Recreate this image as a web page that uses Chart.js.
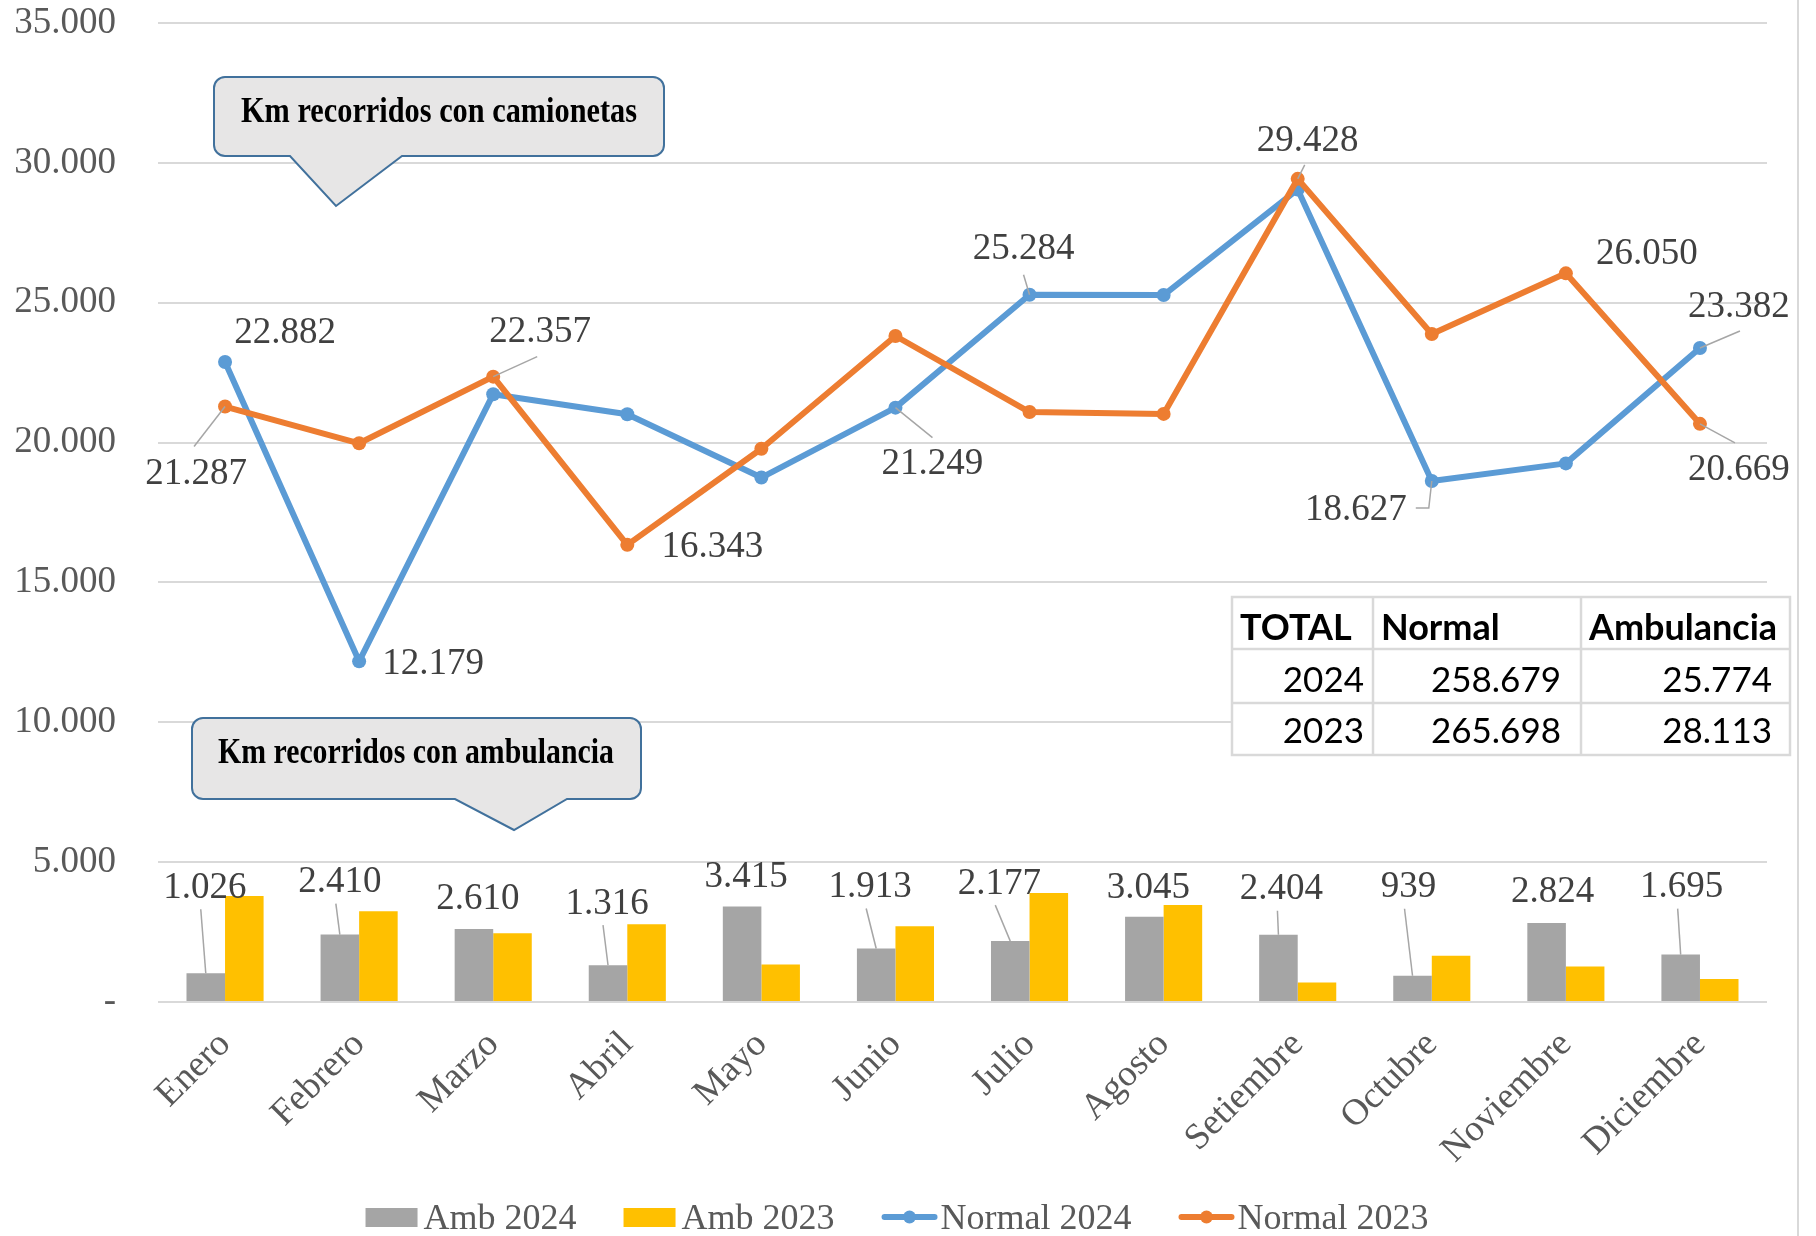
<!DOCTYPE html>
<html>
<head>
<meta charset="utf-8">
<script src="https://cdn.jsdelivr.net/npm/chart.js@4.4.1/dist/chart.umd.min.js"></script>
<style>
html,body{margin:0;padding:0;background:#ffffff;}
#wrap{width:1816px;height:1236px;position:relative;overflow:hidden;}
canvas{display:block;}
</style>
</head>
<body>
<div id="wrap"><canvas id="c" width="1816" height="1236"></canvas></div>
<script>
// ---------- DATA ----------
const months = ['Enero','Febrero','Marzo','Abril','Mayo','Junio','Julio','Agosto','Setiembre','Octubre','Noviembre','Diciembre'];
const amb2024 = [1026,2410,2610,1316,3415,1913,2177,3045,2404,939,2824,1695];
const amb2023 = [3790,3245,2455,2780,1345,2705,3895,3465,695,1650,1265,823];
const normal2024 = [22882,12179,21730,21015,18750,21249,25284,25275,29050,18627,19256,23382];
const normal2023 = [21287,19975,22357,16343,19780,23810,21091,21025,29428,23883,26050,20669];
const seriesNames = ['Amb 2024','Amb 2023','Normal 2024','Normal 2023'];
const yMax = 35000;
const yStep = 5000;
const totalsHeader = ['TOTAL','Normal','Ambulancia'];
const totals2024 = ['2024','258.679','25.774'];
const totals2023 = ['2023','265.698','28.113'];
const calloutTexts = ['Km recorridos con camionetas','Km recorridos con ambulancia'];

// ---------- STYLE ----------
const SERIF = "'Liberation Serif','Times New Roman',serif";
const COLORS = {gray:'#A5A5A5', yellow:'#FFC000', blue:'#5B9BD5', orange:'#ED7D31', grid:'#D9D9D9', tick:'#595959', label:'#404040', leader:'#A6A6A6'};
const AREA = {left:158, top:23, right:1767, bottom:1002};
const FS = 37;

function fmt(v){
  if (v === 0) return '-';
  return String(Math.round(v)).replace(/\B(?=(\d{3})+(?!\d))/g,'.');
}

// label placement (offsets from the element, in px)
const lineLabelSpec = {
  2: [
    {i:0, dx:60, dy:-29},
    {i:1, dx:74, dy:3},
    {i:5, dx:37, dy:57, lead:[[0,0],[37,30]]},
    {i:6, dx:-6, dy:-45, lead:[[0,0],[-6,-20]]},
    {i:9, dx:-76, dy:29, lead:[[0,0],[-3,27],[-16,27]]},
    {i:11, dx:39, dy:-41, lead:[[0,0],[40,-17]]}
  ],
  3: [
    {i:0, dx:-29, dy:68, lead:[[0,0],[-31,40]]},
    {i:2, dx:47, dy:-44, lead:[[0,0],[44,-20]]},
    {i:3, dx:85, dy:2},
    {i:8, dx:10, dy:-38, lead:[[0,0],[7,-14]]},
    {i:10, dx:81, dy:-19},
    {i:11, dx:39, dy:46, lead:[[0,0],[35,19]]}
  ]
};
const barLabelSpec = [
  {dx:-1, dy:-85, lead:true},
  {dx:0, dy:-52, lead:true},
  {dx:4, dy:-30, lead:false},
  {dx:-1, dy:-61, lead:true},
  {dx:4, dy:-29, lead:false},
  {dx:-6, dy:-61, lead:true},
  {dx:-11, dy:-57, lead:true},
  {dx:4, dy:-29, lead:false},
  {dx:3, dy:-45, lead:true},
  {dx:-4, dy:-88, lead:true},
  {dx:6, dy:-31, lead:false},
  {dx:1, dy:-67, lead:true}
];

const dataLabelsPlugin = {
  id:'dataLabels',
  afterDatasetsDraw(chart){
    const ctx = chart.ctx;
    ctx.save();
    ctx.font = FS + 'px ' + SERIF;
    ctx.textAlign = 'center';
    ctx.textBaseline = 'middle';
    Object.keys(lineLabelSpec).forEach(k => {
      const di = +k;
      const meta = chart.getDatasetMeta(di);
      const data = chart.data.datasets[di].data;
      lineLabelSpec[k].forEach(s => {
        const el = meta.data[s.i];
        if (s.lead){
          ctx.strokeStyle = COLORS.leader; ctx.lineWidth = 1.5;
          ctx.beginPath();
          s.lead.forEach((p,j)=>{ const px = el.x+p[0], py = el.y+p[1]; if(j===0) ctx.moveTo(px,py); else ctx.lineTo(px,py); });
          ctx.stroke();
        }
        ctx.fillStyle = COLORS.label;
        ctx.fillText(fmt(data[s.i]), el.x + s.dx, el.y + s.dy);
      });
    });
    const bmeta = chart.getDatasetMeta(0);
    const bdata = chart.data.datasets[0].data;
    bmeta.data.forEach((el, i) => {
      const s = barLabelSpec[i];
      const lx = el.x + s.dx, ly = el.y + s.dy;
      if (s.lead){
        ctx.strokeStyle = COLORS.leader; ctx.lineWidth = 1.5;
        ctx.beginPath(); ctx.moveTo(lx - 4, ly + 21); ctx.lineTo(el.x, el.y); ctx.stroke();
      }
      ctx.fillStyle = COLORS.label;
      ctx.fillText(fmt(bdata[i]), lx, ly);
    });
    ctx.restore();
  }
};

function calloutPath(ctx, l, t, r, b, rad, pl, px, py, pr){
  ctx.beginPath();
  ctx.moveTo(l+rad, t);
  ctx.lineTo(r-rad, t); ctx.arcTo(r, t, r, t+rad, rad);
  ctx.lineTo(r, b-rad); ctx.arcTo(r, b, r-rad, b, rad);
  ctx.lineTo(pr, b); ctx.lineTo(px, py); ctx.lineTo(pl, b);
  ctx.lineTo(l+rad, b); ctx.arcTo(l, b, l, b-rad, rad);
  ctx.lineTo(l, t+rad); ctx.arcTo(l, t, l+rad, t, rad);
  ctx.closePath();
}

const overlayPlugin = {
  id:'overlay',
  afterDraw(chart){
    const ctx = chart.ctx;
    ctx.save();
    ctx.strokeStyle = COLORS.grid; ctx.lineWidth = 2;
    ctx.beginPath(); ctx.moveTo(1798, 0); ctx.lineTo(1798, 1236); ctx.stroke();

    const callouts = [
      {box:[214,77,664,156], ptr:[290,336,206,402], tx:439, ty:122},
      {box:[192,718,641,799], ptr:[455,514,830,567], tx:416, ty:763}
    ];
    callouts.forEach((c, k) => {
      calloutPath(ctx, c.box[0], c.box[1], c.box[2], c.box[3], 11, c.ptr[0], c.ptr[1], c.ptr[2], c.ptr[3]);
      ctx.fillStyle = '#E7E6E6'; ctx.fill();
      ctx.strokeStyle = '#41719C'; ctx.lineWidth = 2; ctx.stroke();
      ctx.fillStyle = '#000000';
      ctx.font = 'bold 35px ' + SERIF;
      ctx.textAlign = 'center'; ctx.textBaseline = 'alphabetic';
      ctx.fillText(calloutTexts[k], c.tx, c.ty, 396);
    });

    const cols = [1232,1373,1581,1790];
    const rows = [597,649,703,755];
    const baselines = [640,692,743];
    const rightPad = [9,20,18];
    ctx.fillStyle = '#ffffff';
    ctx.fillRect(cols[0], rows[0], cols[3]-cols[0], rows[3]-rows[0]);
    const tableRows = [totalsHeader, totals2024, totals2023];
    tableRows.forEach((row, r) => {
      row.forEach((txt, c) => {
        ctx.fillStyle = '#000000';
        if (r === 0){
          ctx.font = 'bold 36px Lato, sans-serif';
          ctx.textAlign = 'left';
          ctx.fillText(txt, cols[c] + 8, baselines[r], cols[c+1]-cols[c]-10);
        } else {
          ctx.font = '35px Lato, sans-serif';
          ctx.textAlign = 'right';
          ctx.fillText(txt, cols[c+1] - rightPad[c], baselines[r]);
        }
      });
    });
    ctx.strokeStyle = COLORS.grid; ctx.lineWidth = 2.5;
    ctx.strokeRect(cols[0], rows[0], cols[3]-cols[0], rows[3]-rows[0]);
    ctx.beginPath();
    [cols[1], cols[2]].forEach(x => { ctx.moveTo(x, rows[0]); ctx.lineTo(x, rows[3]); });
    [rows[1], rows[2]].forEach(y => { ctx.moveTo(cols[0], y); ctx.lineTo(cols[3], y); });
    ctx.stroke();

    ctx.font = '36px ' + SERIF;
    ctx.textAlign = 'left'; ctx.textBaseline = 'alphabetic';
    const ds = chart.data.datasets;
    const items = ds.map(d => {
      const isBar = d.type === 'bar';
      const sym = isBar ? 52 : 56;
      const gap = isBar ? 6 : 3;
      return {d, isBar, sym, gap, w: sym + gap + ctx.measureText(d.label).width};
    });
    const itemGap = 47;
    const total = items.reduce((a, it) => a + it.w, 0) + itemGap * (items.length - 1);
    let x = 897 - total / 2;
    const cy = 1217;
    items.forEach(it => {
      if (it.isBar){
        ctx.fillStyle = it.d.backgroundColor;
        ctx.fillRect(x, cy - 9, it.sym, 19);
      } else {
        ctx.strokeStyle = it.d.borderColor; ctx.lineWidth = 6; ctx.lineCap = 'round';
        ctx.beginPath(); ctx.moveTo(x + 3, cy); ctx.lineTo(x + it.sym - 3, cy); ctx.stroke();
        ctx.fillStyle = it.d.borderColor;
        ctx.beginPath(); ctx.arc(x + it.sym/2, cy, 6.5, 0, Math.PI*2); ctx.fill();
      }
      ctx.fillStyle = COLORS.tick;
      ctx.fillText(it.d.label, x + it.sym + it.gap, 1229);
      x += it.w + itemGap;
    });
    ctx.restore();
  }
};

Chart.defaults.font.family = SERIF;

const chart = new Chart(document.getElementById('c').getContext('2d'), {
  type: 'bar',
  data: {
    labels: months,
    datasets: [
      {type:'bar', label:seriesNames[0], data:amb2024, backgroundColor:COLORS.gray, order:2, categoryPercentage:0.575, barPercentage:1.0},
      {type:'bar', label:seriesNames[1], data:amb2023, backgroundColor:COLORS.yellow, order:3, categoryPercentage:0.575, barPercentage:1.0},
      {type:'line', label:seriesNames[2], data:normal2024, borderColor:COLORS.blue, backgroundColor:COLORS.blue, borderWidth:6, pointRadius:7, pointBorderWidth:0, pointBackgroundColor:COLORS.blue, tension:0, order:1, borderJoinStyle:'round'},
      {type:'line', label:seriesNames[3], data:normal2023, borderColor:COLORS.orange, backgroundColor:COLORS.orange, borderWidth:6, pointRadius:7, pointBorderWidth:0, pointBackgroundColor:COLORS.orange, tension:0, order:0, borderJoinStyle:'round'}
    ]
  },
  options: {
    responsive:false,
    animation:false,
    devicePixelRatio:1,
    layout:{padding:{top:AREA.top, right:1816-AREA.right, left:0, bottom:0}},
    plugins:{legend:{display:false}, tooltip:{enabled:false}},
    scales:{
      x:{
        grid:{display:false, drawTicks:false},
        border:{display:false},
        ticks:{font:{family:SERIF, size:FS}, color:COLORS.tick, minRotation:45, maxRotation:45, padding:21, autoSkip:false},
        afterFit(s){ s.height = 1236 - AREA.bottom; }
      },
      y:{
        min:0, max:yMax,
        grid:{color:COLORS.grid, lineWidth:2, drawTicks:true, tickLength:42, tickColor:'rgba(0,0,0,0)'},
        border:{display:false},
        ticks:{stepSize:yStep, callback:(v)=>fmt(v), font:{family:SERIF, size:FS}, color:COLORS.tick, padding:0},
        afterFit(s){ s.width = AREA.left; }
      }
    }
  },
  plugins:[dataLabelsPlugin, overlayPlugin]
});
</script>
</body>
</html>
